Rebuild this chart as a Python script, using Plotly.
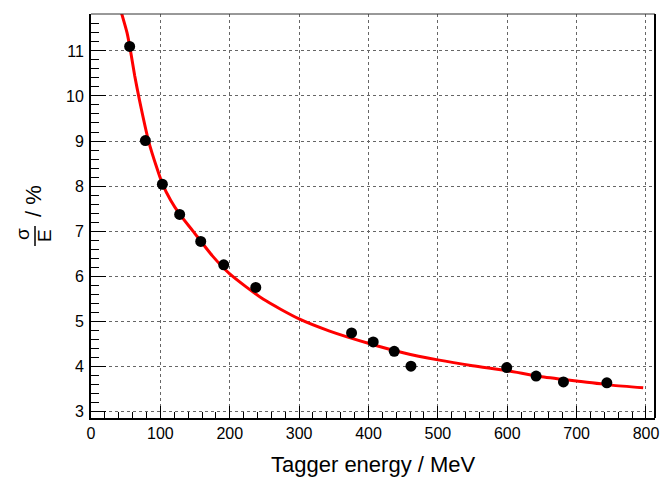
import plotly.graph_objects as go

# Measured points
energy = [55.7, 78.4, 102.9, 127.8, 158.2, 191.3, 237.5, 375.6, 406.8, 437.1, 461.2, 599.3, 641.6, 681.0, 743.6]
resolution = [11.10, 9.01, 8.04, 7.37, 6.77, 6.25, 5.75, 4.74, 4.54, 4.33, 4.00, 3.97, 3.78, 3.65, 3.63]

# Fit curve
fit_energy = [44, 52, 57, 63, 70, 83, 95, 103, 115, 128, 147, 175, 200, 248, 300, 344, 402, 450, 500, 550, 600, 647, 700, 750, 796]
fit_resolution = [11.84, 11.40, 11.0, 10.45, 9.9, 9.0, 8.4, 8.05, 7.68, 7.37, 7.0, 6.45, 6.05, 5.49, 5.05, 4.78, 4.50, 4.30, 4.14, 4.01, 3.90, 3.77, 3.67, 3.58, 3.52]

x_ticks = [0, 100, 200, 300, 400, 500, 600, 700, 800]
y_ticks = [3, 4, 5, 6, 7, 8, 9, 10, 11]

FONT = "Liberation Sans, Arial, Helvetica, sans-serif"

fig = go.Figure()
fig.add_trace(go.Scatter(x=fit_energy, y=fit_resolution, mode="lines",
                         line=dict(color="#ff0000", width=3, shape="spline", smoothing=0.6),
                         showlegend=False, hoverinfo="skip"))
fig.add_trace(go.Scatter(x=energy, y=resolution, mode="markers",
                         marker=dict(color="black", size=11),
                         showlegend=False))

W, H = 670, 477
L, R, T, B = 91, 15, 14, 59
pw = W - L - R
ph = H - T - B

def px_x(p):
    return (p - L) / pw

def px_y(p):
    return (H - B - p) / ph

fig.update_layout(
    width=W, height=H,
    margin=dict(l=L, r=R, t=T, b=B),
    paper_bgcolor="white", plot_bgcolor="white",
    font=dict(family=FONT, color="black", size=16),
    xaxis=dict(range=[0, 813], tickvals=x_ticks, ticktext=[str(v) for v in x_ticks],
               ticks="inside", ticklen=12, tickwidth=1, tickcolor="black",
               showline=True, linecolor="black", linewidth=2,
               showgrid=True, gridcolor="#666666", griddash="dot", gridwidth=1,
               zeroline=False, ticklabelstandoff=0,
               tickfont=dict(size=16, family=FONT),
               minor=dict(ticks="inside", ticklen=6, dtick=20, tick0=0, tickcolor="black", showgrid=False)),
    yaxis=dict(range=[2.85, 11.82], tickvals=y_ticks, ticktext=[str(v) for v in y_ticks],
               ticks="inside", ticklen=15, tickwidth=1, tickcolor="black",
               showline=True, linecolor="black", linewidth=2,
               showgrid=True, gridcolor="#666666", griddash="dot", gridwidth=1,
               zeroline=False, ticklabelstandoff=2,
               tickfont=dict(size=16, family=FONT),
               minor=dict(ticks="inside", ticklen=8, dtick=0.2, tick0=3, tickcolor="black", showgrid=False)),
)

# top and right frame lines
fig.add_shape(type="line", xref="paper", yref="paper", x0=0, x1=1, y0=1, y1=1,
              line=dict(color="#333333", width=1))
fig.add_shape(type="line", xref="paper", yref="paper", x0=1, x1=1, y0=0, y1=1,
              line=dict(color="black", width=2))

# x-axis title
fig.add_annotation(text="Tagger energy / MeV", xref="paper", yref="paper",
                   x=0.5, y=px_y(450), xanchor="center", yanchor="top",
                   showarrow=False, font=dict(size=22, family=FONT, color="black"))

# y-axis title: fraction sigma over E, then " / %"
fig.add_annotation(text="σ", xref="paper", yref="paper",
                   x=px_x(22), y=px_y(234), xanchor="center", yanchor="middle",
                   textangle=-90, showarrow=False, font=dict(size=19, family=FONT, color="black"))
fig.add_annotation(text="E", xref="paper", yref="paper",
                   x=px_x(44), y=px_y(236), xanchor="center", yanchor="middle",
                   textangle=-90, showarrow=False, font=dict(size=19, family=FONT, color="black"))
fig.add_shape(type="line", xref="paper", yref="paper", x0=px_x(35), x1=px_x(35),
              y0=px_y(226), y1=px_y(246), line=dict(color="black", width=1.5))
fig.add_annotation(text="/ %", xref="paper", yref="paper",
                   x=px_x(33), y=px_y(201), xanchor="center", yanchor="middle",
                   textangle=-90, showarrow=False, font=dict(size=22, family=FONT, color="black"))

fig.write_html("out.html", config={"displayModeBar": False},
               post_script="document.body.style.margin='0';document.body.style.overflow='hidden';")
